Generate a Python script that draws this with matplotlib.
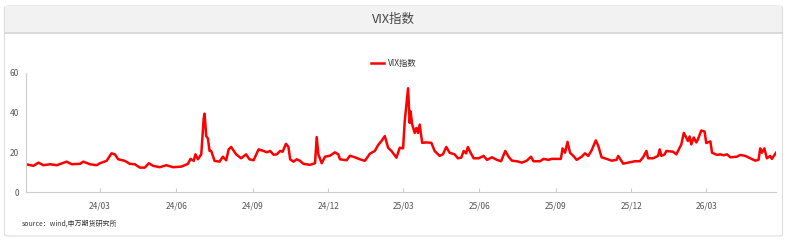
import numpy as np
import pandas as pd
import matplotlib
matplotlib.use("Agg")
import matplotlib.pyplot as plt
import matplotlib.dates as mdates
from matplotlib.patches import FancyBboxPatch, Rectangle
from matplotlib.lines import Line2D

plt.rcParams['font.family'] = ['Noto Sans CJK SC', 'DejaVu Sans']

# VIX readings taken off the chart
dates = [
    "2023-12-03", "2023-12-12", "2023-12-18", "2023-12-24", "2024-01-01", "2024-01-09",
    "2024-01-21", "2024-01-27", "2024-02-06", "2024-02-10", "2024-02-18", "2024-02-26",
    "2024-03-01", "2024-03-09", "2024-03-15", "2024-03-19", "2024-03-23", "2024-03-31",
    "2024-04-06", "2024-04-12", "2024-04-18", "2024-04-24", "2024-04-29", "2024-05-04",
    "2024-05-12", "2024-05-20", "2024-05-28", "2024-06-07", "2024-06-15", "2024-06-18",
    "2024-06-22", "2024-06-24", "2024-06-27", "2024-07-01", "2024-07-04", "2024-07-05",
    "2024-07-07", "2024-07-09", "2024-07-11", "2024-07-13", "2024-07-17", "2024-07-23",
    "2024-07-27", "2024-07-31", "2024-08-03", "2024-08-06", "2024-08-12", "2024-08-18",
    "2024-08-24", "2024-08-28", "2024-09-02", "2024-09-08", "2024-09-14", "2024-09-18",
    "2024-09-22", "2024-09-26", "2024-09-30", "2024-10-04", "2024-10-07", "2024-10-11",
    "2024-10-14", "2024-10-16", "2024-10-20", "2024-10-24", "2024-10-28", "2024-11-01",
    "2024-11-09", "2024-11-15", "2024-11-17", "2024-11-19", "2024-11-23", "2024-11-27",
    "2024-12-03", "2024-12-09", "2024-12-13", "2024-12-15", "2024-12-23", "2024-12-27",
    "2025-01-02", "2025-01-08", "2025-01-14", "2025-01-20", "2025-01-26", "2025-01-30",
    "2025-02-03", "2025-02-07", "2025-02-11", "2025-02-15", "2025-02-21", "2025-02-25",
    "2025-03-01", "2025-03-03", "2025-03-07", "2025-03-09", "2025-03-10", "2025-03-12",
    "2025-03-15", "2025-03-17", "2025-03-19", "2025-03-21", "2025-03-24", "2025-03-29",
    "2025-04-04", "2025-04-08", "2025-04-14", "2025-04-18", "2025-04-22", "2025-04-26",
    "2025-05-02", "2025-05-06", "2025-05-10", "2025-05-13", "2025-05-16", "2025-05-18",
    "2025-05-21", "2025-05-25", "2025-05-31", "2025-06-06", "2025-06-10", "2025-06-16",
    "2025-06-22", "2025-06-27", "2025-07-02", "2025-07-06", "2025-07-10", "2025-07-16",
    "2025-07-22", "2025-07-28", "2025-08-02", "2025-08-05", "2025-08-13", "2025-08-17",
    "2025-08-23", "2025-08-27", "2025-09-02", "2025-09-07", "2025-09-09", "2025-09-12",
    "2025-09-15", "2025-09-18", "2025-09-22", "2025-09-26", "2025-10-02", "2025-10-06",
    "2025-10-10", "2025-10-14", "2025-10-19", "2025-10-22", "2025-10-26", "2025-11-01",
    "2025-11-07", "2025-11-13", "2025-11-15", "2025-11-21", "2025-11-27", "2025-12-05",
    "2025-12-11", "2025-12-15", "2025-12-19", "2025-12-21", "2025-12-27", "2026-01-02",
    "2026-01-04", "2026-01-06", "2026-01-10", "2026-01-12", "2026-01-20", "2026-01-24",
    "2026-01-28", "2026-01-30", "2026-02-02", "2026-02-05", "2026-02-07", "2026-02-09",
    "2026-02-11", "2026-02-14", "2026-02-17", "2026-02-19", "2026-02-23", "2026-02-27",
    "2026-03-01", "2026-03-06", "2026-03-08", "2026-03-14", "2026-03-18", "2026-03-22",
    "2026-03-26", "2026-03-30", "2026-04-07", "2026-04-11", "2026-04-17", "2026-04-23",
    "2026-04-29", "2026-05-03", "2026-05-05", "2026-05-07", "2026-05-10", "2026-05-13",
    "2026-05-17", "2026-05-19", "2026-05-24",
]
vix = [
    14.0, 13.2, 14.8, 13.5, 14.0, 13.5,
    15.3, 14.0, 14.2, 15.3, 14.0, 13.5,
    14.5, 15.7, 19.5, 19.0, 16.5, 15.7,
    14.2, 14.0, 12.3, 12.3, 14.5, 13.2,
    12.5, 13.5, 12.5, 12.8, 14.2, 16.7,
    15.7, 19.0, 16.5, 19.0, 37.3, 39.5,
    28.2, 27.0, 20.7, 20.7, 15.7, 15.3,
    17.8, 16.0, 21.5, 22.7, 19.0, 17.0,
    19.0, 16.5, 16.0, 21.5, 20.7, 20.0,
    20.7, 18.8, 19.0, 20.7, 20.3, 24.3,
    22.7, 16.5, 15.3, 16.5, 15.7, 14.2,
    13.7, 14.5, 27.7, 19.0, 14.5, 17.8,
    18.3, 20.0, 19.0, 16.5, 16.0, 18.3,
    17.5, 16.5, 15.7, 19.3, 20.7, 23.7,
    25.7, 28.2, 22.3, 20.7, 17.3, 22.3,
    22.0, 35.7, 52.3, 34.8, 40.7, 34.0,
    29.8, 32.3, 29.8, 34.0, 24.8, 25.0,
    24.8, 20.7, 18.2, 19.0, 22.7, 19.8,
    19.0, 17.0, 17.3, 20.7, 19.5, 22.7,
    20.0, 17.0, 17.0, 18.2, 16.2, 17.5,
    16.2, 15.5, 20.7, 17.8, 15.8, 15.5,
    14.8, 15.8, 17.8, 15.5, 15.5, 16.7,
    16.2, 16.7, 16.7, 16.7, 22.0, 19.8,
    25.3, 19.8, 18.2, 16.2, 17.8, 19.5,
    18.2, 21.0, 26.0, 23.3, 17.5, 16.7,
    15.8, 16.2, 18.2, 14.3, 14.8, 15.5,
    15.5, 17.5, 20.7, 17.0, 17.0, 18.2,
    21.5, 18.2, 19.0, 20.7, 20.3, 19.0,
    22.3, 24.0, 29.8, 27.3, 25.7, 28.0,
    24.0, 27.5, 25.0, 26.5, 31.0, 30.5,
    24.7, 25.5, 19.8, 18.7, 19.0, 18.5,
    19.0, 17.5, 17.8, 18.7, 18.2, 17.0,
    15.8, 16.2, 22.0, 19.8, 22.0, 17.0,
    18.2, 16.7, 19.8,
]
tick_dates = ["2024-03-01", "2024-06-01", "2024-09-01", "2024-12-01", "2025-03-01",
              "2025-06-01", "2025-09-01", "2025-12-01", "2026-03-01"]
tick_labels = ["24/03", "24/06", "24/09", "24/12", "25/03", "25/06", "25/09", "25/12", "26/03"]
y_ticks = [0, 20, 40, 60]

x = pd.to_datetime(dates)
W, H = 787, 242
fig = plt.figure(figsize=(W / 100, H / 100), dpi=100)

# card background, drawn under the axes
card = FancyBboxPatch((4.5 / W, 6 / H), 778 / W, 230 / H, boxstyle="round,pad=0,rounding_size=0.006",
                      transform=fig.transFigure, facecolor="white", edgecolor="#dddddd", lw=0.8, zorder=-3)
fig.patches.append(card)
fig.patches.append(Rectangle((5 / W, 1 - 33 / H), 777 / W, 27 / H, transform=fig.transFigure,
                             facecolor="#f2f2f2", edgecolor="none", zorder=-2))
fig.lines.append(Line2D([5 / W, 782 / W], [1 - 33 / H, 1 - 33 / H], transform=fig.transFigure,
                        color="#d4d4d4", lw=1.2, zorder=-1))
fig.text(0.5, 1 - 19 / H, "VIX指数", ha="center", va="center", fontsize=9, color="#444444")

ax = fig.add_axes([26 / W, 1 - 192 / H, 750 / W, 119 / H])
ax.patch.set_alpha(0)
ax.plot(x, vix, color="#ff0000", lw=1.8, label="VIX指数")
ax.set_ylim(0, 60)
ax.set_xlim(x[0], x[-1])
ax.set_yticks(y_ticks)
ax.set_xticks(pd.to_datetime(tick_dates))
ax.set_xticklabels(tick_labels)
ax.tick_params(axis="y", length=0, labelsize=6, labelcolor="#555555", pad=5)
ax.tick_params(axis="x", direction="in", length=3, width=0.8, color="#cccccc",
               labelsize=6, labelcolor="#555555", pad=7)
for s in ["top", "right"]:
    ax.spines[s].set_visible(False)
for s in ["left", "bottom"]:
    ax.spines[s].set_color("#cccccc")
    ax.spines[s].set_linewidth(0.8)

leg = fig.legend(loc="center", bbox_to_anchor=(394 / W, 1 - 63 / H), frameon=False,
                 fontsize=6, handlelength=1.6, handletextpad=0.5)
for t in leg.get_texts():
    t.set_color("#333333")

fig.text(22 / W, 1 - 224 / H, "source：wind,申万期货研究所", ha="left", va="center",
         fontsize=5, style="italic", color="#333333")

fig.savefig("out.png", dpi=100)
